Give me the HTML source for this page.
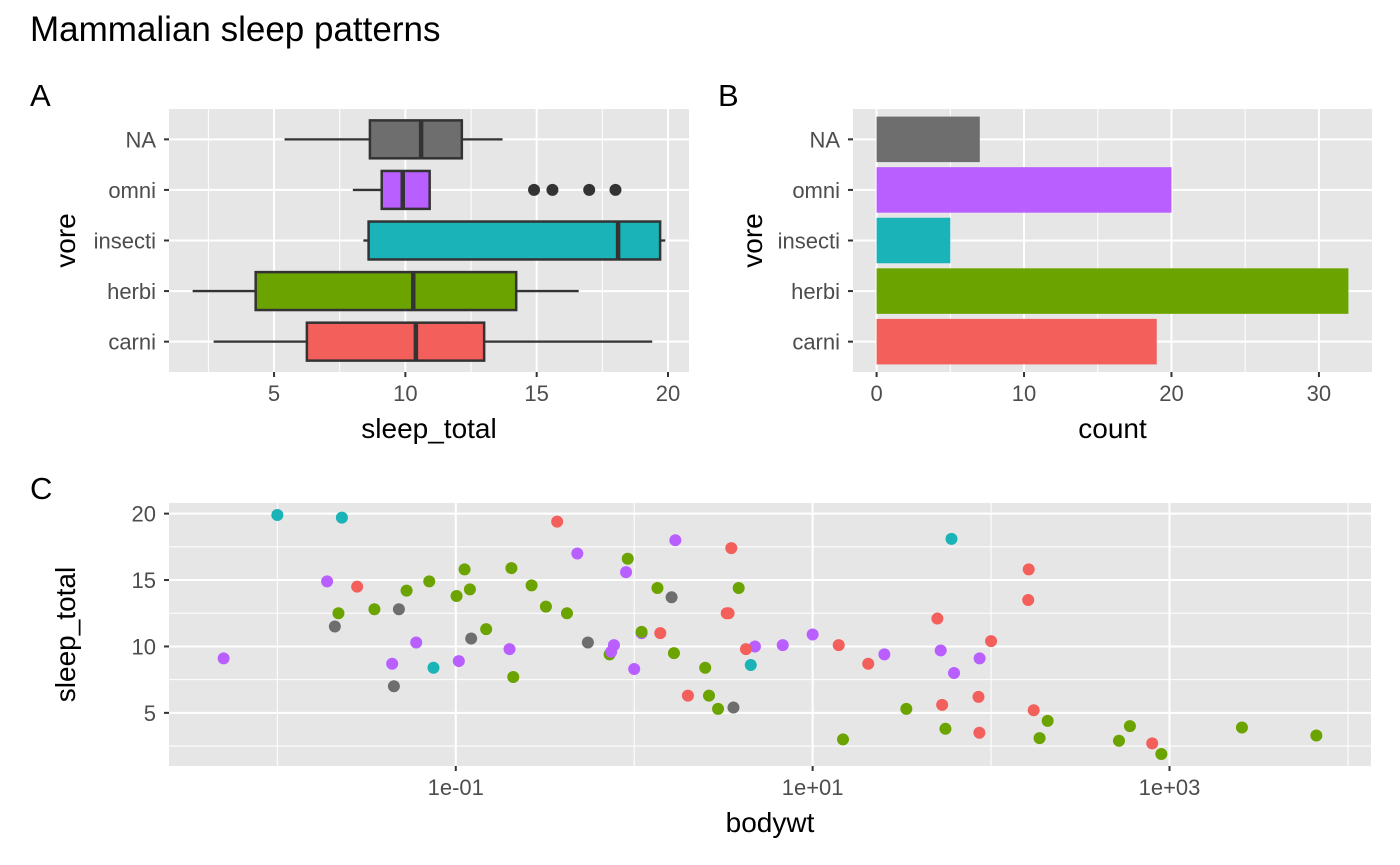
<!DOCTYPE html>
<html><head><meta charset="utf-8"><style>
body{margin:0;background:#fff;}
svg{display:block;font-family:"Liberation Sans",Arial,sans-serif;}
</style></head><body>
<svg id="chart" width="1400" height="865" viewBox="0 0 1400 865" xmlns="http://www.w3.org/2000/svg">
<text x="30" y="41" font-size="35" fill="#000">Mammalian sleep patterns</text>
<text x="30" y="106" font-size="31" fill="#000">A</text>
<text x="718" y="106" font-size="31" fill="#000">B</text>
<text x="30" y="499" font-size="31" fill="#000">C</text>
<g id="pa"></g>
<g id="pb"></g>
<g id="pc"></g>
</svg>
<script>
const categories = ["carni","herbi","insecti","omni","NA"];
const colors = {carni:"#F35F5B",herbi:"#6BA300",insecti:"#19B3B8",omni:"#B95FFF",NA:"#6E6E6E"};
// Panel A box stats
const boxLow = [2.7, 1.9, 8.4, 8.0, 5.4];
const boxQ1 = [6.25, 4.3, 8.6, 9.1, 8.65];
const boxMed = [10.4, 10.3, 18.1, 9.9, 10.6];
const boxQ3 = [13.0, 14.22, 19.7, 10.925, 12.15];
const boxHigh = [19.4, 16.6, 19.9, 10.9, 13.7];
const outlierCat = ["omni","omni","omni","omni"];
const outlierVal = [14.9, 15.6, 17.0, 18.0];
const ticksA = [5,10,15,20];
// Panel B counts
const counts = [19, 32, 5, 20, 7];
const ticksB = [0,10,20,30];
// Panel C scatter
const vore = ["carni","omni","herbi","omni","herbi","herbi","carni","NA","carni","herbi","herbi","herbi","omni","herbi","omni","omni","omni","carni","herbi","omni","herbi","insecti","herbi","herbi","omni","omni","herbi","carni","omni","herbi","carni","carni","herbi","omni","herbi","herbi","carni","omni","herbi","herbi","herbi","herbi","insecti","herbi","carni","herbi","carni","herbi","herbi","omni","carni","carni","carni","omni","NA","omni","NA","NA","carni","carni","herbi","insecti","NA","herbi","omni","omni","insecti","herbi","NA","herbi","herbi","herbi","NA","omni","insecti","herbi","herbi","omni","omni","carni","carni","carni","carni"];
const bodywt = [50,0.48,1.35,0.019,600,3.85,20.49,0.045,14,14.8,33.5,0.728,4.75,0.42,0.06,1,0.005,3.5,2.95,1.7,2547,0.023,521,187,0.77,10,0.071,3.3,0.2,899.995,800,85,2.625,62,1.67,6654,0.37,6.8,0.053,0.12,0.035,0.022,0.01,0.266,1.4,0.21,0.028,2.5,55.5,52.2,162.564,100,161.499,25.235,0.55,1.1,0.021,1.62,86,53.18,1.1,60,3.6,0.32,0.044,0.743,0.075,0.148,0.122,0.92,0.101,0.205,0.048,86.25,4.5,0.112,207.501,0.9,0.104,173.33,2,3.38,4.23];
const sleepTotal = [12.1,17,14.4,14.9,4,14.4,8.7,7,10.1,3,5.3,9.4,10,12.5,10.3,8.3,9.1,17.4,5.3,18,3.9,19.7,2.9,3.1,10.1,10.9,14.9,12.5,9.8,1.9,2.7,6.2,6.3,8,9.5,3.3,19.4,10.1,14.2,14.3,12.8,12.5,19.9,14.6,11,7.7,14.5,8.4,3.8,9.7,15.8,10.4,13.5,9.4,10.3,11,11.5,13.7,3.5,5.6,11.1,18.1,5.4,13,8.7,9.6,8.4,11.3,10.6,16.6,13.8,15.9,12.8,9.1,8.6,15.8,4.4,15.6,8.9,5.2,6.3,12.5,9.8];
const ticksCx = [-1,1,3];
const minorCx = [-2,0,2,4];
const ticksCy = [5,10,15,20];
const tickLabelsCx = ["1e-01","1e+01","1e+03"];

const NS="http://www.w3.org/2000/svg";
function mk(parent,tag,attrs,name,txt){const e=document.createElementNS(NS,tag);for(const k in attrs)e.setAttribute(k,attrs[k]);


if(txt!==undefined)e.textContent=txt;parent.appendChild(e);return e;}
const PANEL="#E6E6E6",TICKC="#4D4D4D",TICKF=22,AXF=28;

// ---------- Panel A ----------
(function(){
 const g=document.getElementById('pa');
 const L=169,R=689,T=109,B=372;
 const xmin=1.0,xmax=20.8;
 const x=v=>L+(v-xmin)/(xmax-xmin)*(R-L);
 const n=categories.length, unit=(B-T)/(n-1+1.2);
 const y=i=>B-(0.6+i)*unit;
 mk(g,'rect',{x:L,y:T,width:R-L,height:B-T,fill:PANEL},'panel-a-background');
 [2.5,7.5,12.5,17.5].forEach(m=>mk(g,'line',{x1:x(m),x2:x(m),y1:T,y2:B,stroke:'#fff','stroke-width':1},'minor-gridline'));
 ticksA.forEach(t=>{mk(g,'line',{x1:x(t),x2:x(t),y1:T,y2:B,stroke:'#fff','stroke-width':2},'major-gridline');
  mk(g,'line',{x1:x(t),x2:x(t),y1:B,y2:B+5,stroke:'#333','stroke-width':2},'x-tick');
  mk(g,'text',{x:x(t),y:B+29,'text-anchor':'middle','font-size':TICKF,fill:TICKC},'x-tick-label',String(t));});
 categories.forEach((c,i)=>{mk(g,'line',{x1:L,x2:R,y1:y(i),y2:y(i),stroke:'#fff','stroke-width':2},'major-gridline');
  mk(g,'line',{x1:L-5,x2:L,y1:y(i),y2:y(i),stroke:'#333','stroke-width':2},'y-tick');
  mk(g,'text',{x:L-13,y:y(i)+8,'text-anchor':'end','font-size':TICKF,fill:TICKC},'y-tick-label',c);});
 const bh=unit*0.75;
 categories.forEach((c,i)=>{const cy=y(i);
  mk(g,'line',{x1:x(boxLow[i]),x2:x(boxQ1[i]),y1:cy,y2:cy,stroke:'#333','stroke-width':2.3},'whisker-low-'+c);
  mk(g,'line',{x1:x(boxQ3[i]),x2:x(boxHigh[i]),y1:cy,y2:cy,stroke:'#333','stroke-width':2.3},'whisker-high-'+c);
  mk(g,'rect',{x:x(boxQ1[i]),y:cy-bh/2,width:x(boxQ3[i])-x(boxQ1[i]),height:bh,fill:colors[c],stroke:'#333','stroke-width':2.5},'box-'+c);
  mk(g,'line',{x1:x(boxMed[i]),x2:x(boxMed[i]),y1:cy-bh/2,y2:cy+bh/2,stroke:'#333','stroke-width':4.5},'median-'+c);});
 outlierVal.forEach((v,k)=>{const i=categories.indexOf(outlierCat[k]);
  mk(g,'circle',{cx:x(v),cy:y(i),r:6,fill:'#333'},'outlier-point');});
 mk(g,'text',{x:(L+R)/2,y:438,'text-anchor':'middle','font-size':AXF,fill:'#000'},'x-axis-title','sleep_total');
 mk(g,'text',{x:0,y:0,transform:`translate(75,${(T+B)/2}) rotate(-90)`,'text-anchor':'middle','font-size':AXF,fill:'#000'},'y-axis-title','vore');
})();

// ---------- Panel B ----------
(function(){
 const g=document.getElementById('pb');
 const L=853,R=1372,T=109,B=372;
 const xmin=-1.6,xmax=33.6;
 const x=v=>L+(v-xmin)/(xmax-xmin)*(R-L);
 const n=categories.length, unit=(B-T)/(n-1+1.2);
 const y=i=>B-(0.6+i)*unit;
 mk(g,'rect',{x:L,y:T,width:R-L,height:B-T,fill:PANEL},'panel-b-background');
 [5,15,25].forEach(m=>mk(g,'line',{x1:x(m),x2:x(m),y1:T,y2:B,stroke:'#fff','stroke-width':1},'minor-gridline'));
 ticksB.forEach(t=>{mk(g,'line',{x1:x(t),x2:x(t),y1:T,y2:B,stroke:'#fff','stroke-width':2},'major-gridline');
  mk(g,'line',{x1:x(t),x2:x(t),y1:B,y2:B+5,stroke:'#333','stroke-width':2},'x-tick');
  mk(g,'text',{x:x(t),y:B+29,'text-anchor':'middle','font-size':TICKF,fill:TICKC},'x-tick-label',String(t));});
 const bh=unit*0.9;
 categories.forEach((c,i)=>{mk(g,'line',{x1:L,x2:R,y1:y(i),y2:y(i),stroke:'#fff','stroke-width':2},'major-gridline');
  mk(g,'line',{x1:L-5,x2:L,y1:y(i),y2:y(i),stroke:'#333','stroke-width':2},'y-tick');
  mk(g,'text',{x:L-13,y:y(i)+8,'text-anchor':'end','font-size':TICKF,fill:TICKC},'y-tick-label',c);
  mk(g,'rect',{x:x(0),y:y(i)-bh/2,width:x(counts[i])-x(0),height:bh,fill:colors[c]},'bar-'+c);});
 mk(g,'text',{x:(L+R)/2,y:438,'text-anchor':'middle','font-size':AXF,fill:'#000'},'x-axis-title','count');
 mk(g,'text',{x:0,y:0,transform:`translate(762,${(T+B)/2}) rotate(-90)`,'text-anchor':'middle','font-size':AXF,fill:'#000'},'y-axis-title','vore');
})();

// ---------- Panel C ----------
(function(){
 const g=document.getElementById('pc');
 const L=169,R=1371,T=503,B=766;
 const lx=bodywt.map(Math.log10), lmin=Math.min(...lx), lmax=Math.max(...lx), ex=(lmax-lmin)*0.05;
 const xmin=lmin-ex,xmax=lmax+ex;
 const ymn=Math.min(...sleepTotal), ymx=Math.max(...sleepTotal), ey=(ymx-ymn)*0.05;
 const ymin=ymn-ey,ymax=ymx+ey;
 const x=v=>L+(v-xmin)/(xmax-xmin)*(R-L);
 const y=v=>B-(v-ymin)/(ymax-ymin)*(B-T);
 mk(g,'rect',{x:L,y:T,width:R-L,height:B-T,fill:PANEL},'panel-c-background');
 minorCx.forEach(m=>mk(g,'line',{x1:x(m),x2:x(m),y1:T,y2:B,stroke:'#fff','stroke-width':1},'minor-gridline'));
 [2.5,7.5,12.5,17.5].forEach(m=>mk(g,'line',{x1:L,x2:R,y1:y(m),y2:y(m),stroke:'#fff','stroke-width':1},'minor-gridline'));
 ticksCx.forEach((t,i)=>{mk(g,'line',{x1:x(t),x2:x(t),y1:T,y2:B,stroke:'#fff','stroke-width':2},'major-gridline');
  mk(g,'line',{x1:x(t),x2:x(t),y1:B,y2:B+5,stroke:'#333','stroke-width':2},'x-tick');
  mk(g,'text',{x:x(t),y:B+29,'text-anchor':'middle','font-size':TICKF,fill:TICKC},'x-tick-label',tickLabelsCx[i]);});
 ticksCy.forEach(t=>{mk(g,'line',{x1:L,x2:R,y1:y(t),y2:y(t),stroke:'#fff','stroke-width':2},'major-gridline');
  mk(g,'line',{x1:L-5,x2:L,y1:y(t),y2:y(t),stroke:'#333','stroke-width':2},'y-tick');
  mk(g,'text',{x:L-13,y:y(t)+8,'text-anchor':'end','font-size':TICKF,fill:TICKC},'y-tick-label',String(t));});
 bodywt.forEach((w,i)=>{mk(g,'circle',{cx:x(Math.log10(w)),cy:y(sleepTotal[i]),r:6,fill:colors[vore[i]]},'point-'+vore[i]);});
 mk(g,'text',{x:(L+R)/2,y:832,'text-anchor':'middle','font-size':AXF,fill:'#000'},'x-axis-title','bodywt');
 mk(g,'text',{x:0,y:0,transform:`translate(75,${(T+B)/2}) rotate(-90)`,'text-anchor':'middle','font-size':AXF,fill:'#000'},'y-axis-title','sleep_total');
})();
</script>
</body></html>
